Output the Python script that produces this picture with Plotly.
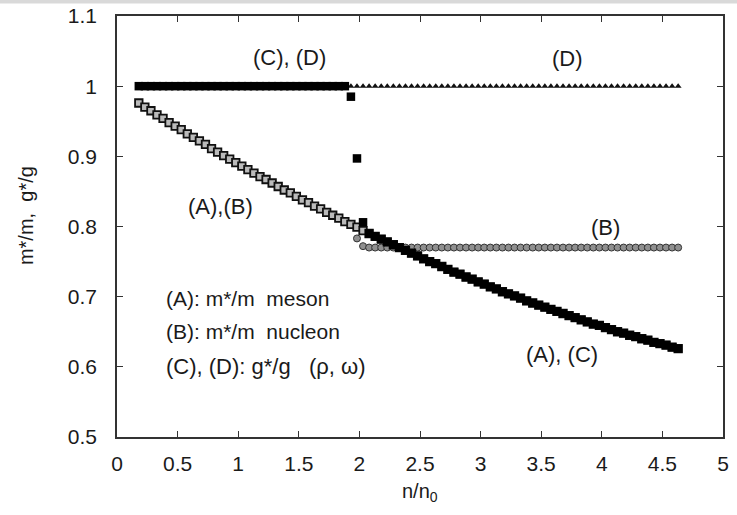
import plotly.graph_objects as go

# density ratio n/n0
n_vals = [0.18, 0.23, 0.28, 0.33, 0.38, 0.43, 0.48, 0.53, 0.58, 0.63,
          0.68, 0.73, 0.78, 0.83, 0.88, 0.93, 0.98, 1.03, 1.08, 1.13,
          1.18, 1.23, 1.28, 1.33, 1.38, 1.43, 1.48, 1.53, 1.58, 1.63,
          1.68, 1.73, 1.78, 1.83, 1.88, 1.93, 1.98, 2.03, 2.08, 2.13,
          2.18, 2.23, 2.28, 2.33, 2.38, 2.43, 2.48, 2.53, 2.58, 2.63,
          2.68, 2.73, 2.78, 2.83, 2.88, 2.93, 2.98, 3.03, 3.08, 3.13,
          3.18, 3.23, 3.28, 3.33, 3.38, 3.43, 3.48, 3.53, 3.58, 3.63,
          3.68, 3.73, 3.78, 3.83, 3.88, 3.93, 3.98, 4.03, 4.08, 4.13,
          4.18, 4.23, 4.28, 4.33, 4.38, 4.43, 4.48, 4.53, 4.58, 4.63]

# (A) m*/m meson
a_meson = [0.976, 0.970, 0.965, 0.959, 0.954, 0.948, 0.943, 0.938, 0.932, 0.927,
           0.922, 0.917, 0.911, 0.906, 0.901, 0.896, 0.891, 0.886, 0.881, 0.876,
           0.871, 0.867, 0.862, 0.857, 0.852, 0.848, 0.843, 0.838, 0.834, 0.829,
           0.825, 0.820, 0.816, 0.812, 0.807, 0.803, 0.799, 0.794, 0.790, 0.786,
           0.782, 0.778, 0.774, 0.770, 0.766, 0.762, 0.758, 0.754, 0.750, 0.747,
           0.743, 0.739, 0.735, 0.732, 0.728, 0.725, 0.721, 0.718, 0.714, 0.711,
           0.707, 0.704, 0.701, 0.698, 0.694, 0.691, 0.688, 0.685, 0.682, 0.679,
           0.676, 0.673, 0.670, 0.667, 0.664, 0.661, 0.659, 0.656, 0.653, 0.650,
           0.648, 0.645, 0.643, 0.640, 0.638, 0.635, 0.633, 0.631, 0.628, 0.626]

# (B) m*/m nucleon
b_nucleon = [0.976, 0.970, 0.965, 0.959, 0.954, 0.948, 0.943, 0.938, 0.932, 0.927,
             0.922, 0.917, 0.911, 0.906, 0.901, 0.896, 0.891, 0.886, 0.881, 0.876,
             0.871, 0.867, 0.862, 0.857, 0.852, 0.848, 0.843, 0.838, 0.834, 0.829,
             0.825, 0.820, 0.816, 0.812, 0.807, 0.803, 0.783, 0.772, 0.770, 0.770,
             0.770, 0.770, 0.770, 0.770, 0.770, 0.770, 0.770, 0.770, 0.770, 0.770,
             0.770, 0.770, 0.770, 0.770, 0.770, 0.770, 0.770, 0.770, 0.770, 0.770,
             0.770, 0.770, 0.770, 0.770, 0.770, 0.770, 0.770, 0.770, 0.770, 0.770,
             0.770, 0.770, 0.770, 0.770, 0.770, 0.770, 0.770, 0.770, 0.770, 0.770,
             0.770, 0.770, 0.770, 0.770, 0.770, 0.770, 0.770, 0.770, 0.770, 0.770]

# (C) g*/g rho
c_rho = [1.000, 1.000, 1.000, 1.000, 1.000, 1.000, 1.000, 1.000, 1.000, 1.000,
         1.000, 1.000, 1.000, 1.000, 1.000, 1.000, 1.000, 1.000, 1.000, 1.000,
         1.000, 1.000, 1.000, 1.000, 1.000, 1.000, 1.000, 1.000, 1.000, 1.000,
         1.000, 1.000, 1.000, 1.000, 1.000, 0.985, 0.897, 0.806, 0.790, 0.786,
         0.782, 0.778, 0.774, 0.770, 0.766, 0.762, 0.758, 0.754, 0.750, 0.747,
         0.743, 0.739, 0.735, 0.732, 0.728, 0.725, 0.721, 0.718, 0.714, 0.711,
         0.707, 0.704, 0.701, 0.698, 0.694, 0.691, 0.688, 0.685, 0.682, 0.679,
         0.676, 0.673, 0.670, 0.667, 0.664, 0.661, 0.659, 0.656, 0.653, 0.650,
         0.648, 0.645, 0.643, 0.640, 0.638, 0.635, 0.633, 0.631, 0.628, 0.626]

# (D) g*/g omega
d_omega = [1.000, 1.000, 1.000, 1.000, 1.000, 1.000, 1.000, 1.000, 1.000, 1.000,
           1.000, 1.000, 1.000, 1.000, 1.000, 1.000, 1.000, 1.000, 1.000, 1.000,
           1.000, 1.000, 1.000, 1.000, 1.000, 1.000, 1.000, 1.000, 1.000, 1.000,
           1.000, 1.000, 1.000, 1.000, 1.000, 1.000, 1.000, 1.000, 1.000, 1.000,
           1.000, 1.000, 1.000, 1.000, 1.000, 1.000, 1.000, 1.000, 1.000, 1.000,
           1.000, 1.000, 1.000, 1.000, 1.000, 1.000, 1.000, 1.000, 1.000, 1.000,
           1.000, 1.000, 1.000, 1.000, 1.000, 1.000, 1.000, 1.000, 1.000, 1.000,
           1.000, 1.000, 1.000, 1.000, 1.000, 1.000, 1.000, 1.000, 1.000, 1.000,
           1.000, 1.000, 1.000, 1.000, 1.000, 1.000, 1.000, 1.000, 1.000, 1.000]

x_ticks = [0, 0.5, 1, 1.5, 2, 2.5, 3, 3.5, 4, 4.5, 5]
x_ticklabels = ["0", "0.5", "1", "1.5", "2", "2.5", "3", "3.5", "4", "4.5", "5"]
y_ticks = [0.5, 0.6, 0.7, 0.8, 0.9, 1.0, 1.1]
y_ticklabels = ["0.5", "0.6", "0.7", "0.8", "0.9", "1", "1.1"]

FONT = "Liberation Sans, Arial, sans-serif"
TXT = "#1a1a1a"
AX = "#333333"
NB = "\u00a0"

fig = go.Figure()
fig.add_trace(go.Scatter(x=n_vals, y=d_omega, mode="markers",
                         marker=dict(symbol="triangle-up", size=6, color="#111111",
                                     line=dict(width=0)), showlegend=False))
fig.add_trace(go.Scatter(x=n_vals, y=b_nucleon, mode="markers",
                         marker=dict(symbol="circle", size=7, color="#8f8f8f",
                                     line=dict(width=1, color="#333333")), showlegend=False))
fig.add_trace(go.Scatter(x=n_vals, y=a_meson, mode="markers",
                         marker=dict(symbol="square", size=7.5, color="#bbbbbb",
                                     line=dict(width=1.8, color="#111111")), showlegend=False))
fig.add_trace(go.Scatter(x=n_vals, y=c_rho, mode="markers",
                         marker=dict(symbol="square", size=8.5, color="#000000",
                                     line=dict(width=0)), showlegend=False))

annots = [
    dict(x=1.425, y=1.041, text="(C), (D)", xanchor="center", size=22),
    dict(x=3.717, y=1.040, text="(D)", xanchor="center", size=22),
    dict(x=0.85, y=0.828, text="(A),(B)", xanchor="center", size=22),
    dict(x=4.03, y=0.798, text="(B)", xanchor="center", size=22),
    dict(x=3.67, y=0.617, text="(A), (C)", xanchor="center", size=22),
    dict(x=0.39, y=0.698, text="(A): m*/m" + NB * 2 + "meson", xanchor="left", size=21),
    dict(x=0.39, y=0.650, text="(B): m*/m" + NB * 2 + "nucleon", xanchor="left", size=21),
    dict(x=0.39, y=0.600, text="(C), (D): g*/g" + NB * 3 + "(\u03c1, \u03c9)",
         xanchor="left", size=22),
]
for a in annots:
    fig.add_annotation(x=a["x"], y=a["y"], text=a["text"], xanchor=a["xanchor"],
                       yanchor="middle", showarrow=False,
                       font=dict(family=FONT, size=a["size"], color=TXT))

# axis titles
fig.add_annotation(xref="paper", yref="paper", x=-0.150, y=0.525,
                   text="m*/m," + NB * 2 + "g*/g", textangle=-90, showarrow=False,
                   xanchor="center", yanchor="middle",
                   font=dict(family=FONT, size=20, color=TXT))
fig.add_annotation(xref="x", yref="paper", x=2.5, y=-0.133,
                   text="n/n<sub>0</sub>", showarrow=False,
                   xanchor="center", yanchor="middle",
                   font=dict(family=FONT, size=20, color=TXT))

# thin gray band at the very top of the image
fig.add_shape(type="rect", xref="paper", yref="paper",
              x0=-117 / 606, x1=1 + 14 / 606, y0=1 + 12.5 / 421, y1=1 + 16 / 421,
              fillcolor="#d9d9d9", line=dict(width=0), layer="above")

fig.update_xaxes(range=[0, 5], tickvals=x_ticks, ticktext=x_ticklabels,
                 ticks="inside", ticklen=6, tickcolor=AX, tickwidth=1.2,
                 showline=True, linecolor=AX, linewidth=1.5, mirror="ticks",
                 showgrid=False, zeroline=False, automargin=False,
                 tickfont=dict(family=FONT, size=21, color=TXT),
                 ticklabelstandoff=7)
fig.update_yaxes(range=[0.5, 1.1], tickvals=y_ticks, ticktext=y_ticklabels,
                 ticks="inside", ticklen=6, tickcolor=AX, tickwidth=1.2,
                 showline=True, linecolor=AX, linewidth=1.5, mirror="ticks",
                 showgrid=False, zeroline=False, automargin=False,
                 tickfont=dict(family=FONT, size=21, color=TXT),
                 ticklabelstandoff=14)

fig.update_layout(width=737, height=515,
                  margin=dict(l=117, r=14, t=16, b=78, autoexpand=False),
                  paper_bgcolor="white", plot_bgcolor="white",
                  showlegend=False)

fig.write_html("out.html")
